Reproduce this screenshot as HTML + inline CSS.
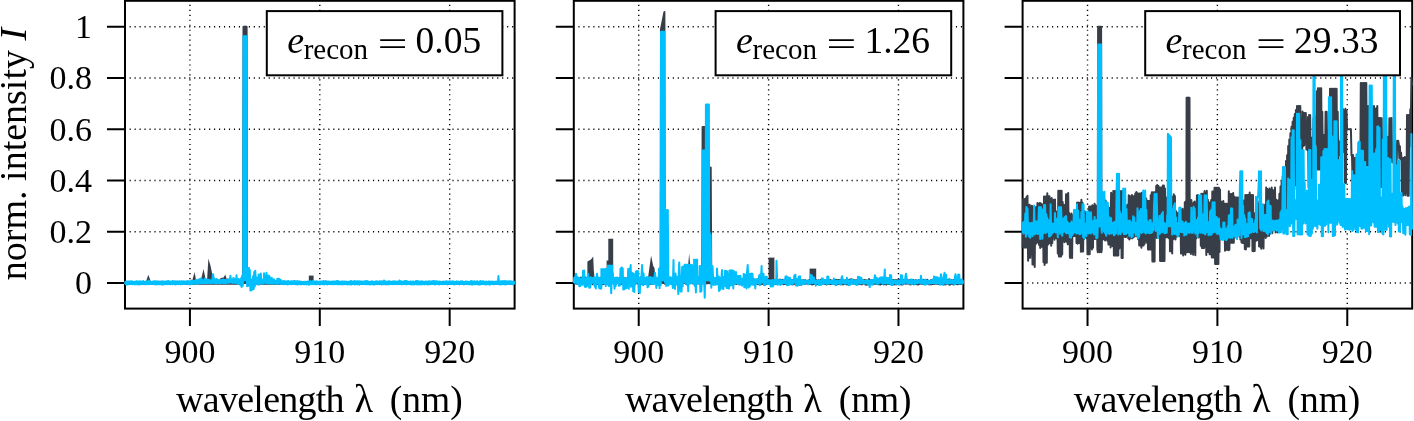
<!DOCTYPE html>
<html><head><meta charset="utf-8"><style>
html,body{margin:0;padding:0;background:#fff;}
svg{display:block;will-change:transform;}
.s{font-family:"Liberation Serif", serif;fill:#000;}
</style></head><body>
<svg width="1414" height="421" viewBox="0 0 1414 421"><rect width="100%" height="100%" fill="#fff"/><path d="M189.93 308.95V0.80M319.80 308.95V0.80M449.67 308.95V0.80M129.60 282.95H514.60M129.60 231.70H514.60M129.60 180.45H514.60M129.60 129.20H514.60M129.60 77.95H514.60M129.60 26.70H514.60" stroke="#000" stroke-width="1.4" stroke-dasharray="1.15 3.817" fill="none" opacity="1"/><rect x="125.00" y="0.80" width="389.60" height="307.80" fill="none" stroke="#000" stroke-width="2"/><path d="M189.93 308.60V326.10M319.80 308.60V326.10M449.67 308.60V326.10M125.00 282.95H107.00M125.00 231.70H107.00M125.00 180.45H107.00M125.00 129.20H107.00M125.00 77.95H107.00M125.00 26.70H107.00" stroke="#000" stroke-width="2" fill="none"/><g fill="none" stroke-width="2.0" stroke-linejoin="round" stroke-linecap="butt"><path d="M125.0,283.8 125.5,282.1 126.1,283.8 126.6,282.1 127.2,283.8 127.7,282.1 128.3,283.8 128.8,282.1 129.4,283.8 129.9,282.1 130.5,283.8 131.0,282.1 131.6,283.8 132.1,282.1 132.7,283.8 133.2,282.1 133.8,283.8 134.3,282.1 134.9,283.8 135.4,282.1 136.0,283.8 136.5,282.1 137.1,283.8 137.6,282.1 138.2,283.8 138.7,282.1 139.3,283.8 139.8,282.1 140.4,283.8 140.9,282.1 141.5,283.8 142.0,282.1 142.6,283.8 143.1,282.1 143.7,283.8 144.2,282.1 144.8,283.8 145.3,282.1 145.9,283.8 146.4,282.1 147.0,283.8 147.5,282.1 148.1,283.8 148.6,282.1 149.2,283.8 149.7,282.1 150.3,283.8 150.8,282.1 151.4,283.8 151.9,282.1 152.5,283.8 153.0,282.1 153.6,283.8 154.1,282.1 154.7,283.8 155.2,282.1 155.8,283.8 156.3,282.1 156.9,283.8 157.4,282.1 158.0,283.8 158.5,282.1 159.1,283.8 159.6,282.1 160.2,283.8 160.7,282.1 161.3,283.8 161.8,282.1 162.4,283.8 162.9,282.1 163.5,283.8 164.0,282.1 164.6,283.8 165.1,282.1 165.7,283.8 166.2,282.1 166.8,283.8 167.3,282.1 167.9,283.8 168.4,282.1 169.0,283.8 169.5,282.1 170.1,283.8 170.6,282.1 171.2,283.8 171.7,282.1 172.3,283.8 172.8,282.1 173.4,283.8 173.9,282.1 174.5,283.8 175.0,282.1 175.6,283.8 176.1,282.1 176.7,283.8 177.2,282.1 177.8,283.8 178.3,282.1 178.9,283.8 179.4,282.1 180.0,283.8 180.5,282.1 181.1,283.8 181.6,282.1 182.2,283.8 182.7,282.1 183.3,283.8 183.8,282.1 184.4,283.8 184.9,282.1 185.5,283.8 186.0,282.1 186.6,283.8 187.1,282.1 187.7,283.8 188.2,282.1 188.8,283.8 189.3,282.1 189.9,283.8 190.4,282.1 191.0,283.8 191.5,282.1 192.1,283.8 192.6,282.1 193.2,283.8 193.7,282.1 194.3,283.8 194.8,282.1 195.4,283.8 195.9,282.1 196.5,283.8 197.0,282.1 197.6,283.8 198.1,282.1 198.7,283.8 199.2,282.1 199.8,283.8 200.3,282.1 200.9,283.8 201.4,282.1 202.0,283.8 202.5,282.1 203.1,283.8 203.6,282.1 204.2,283.8 204.7,282.1 205.3,283.8 205.8,282.1 206.4,283.8 206.9,282.1 207.5,283.8 208.0,282.1 208.6,283.8 209.1,282.1 209.7,283.8 210.2,282.1 210.8,283.8 211.3,282.1 211.9,283.8 212.4,282.1 213.0,283.8 213.5,282.1 214.1,283.8 214.6,282.1 215.2,283.8 215.7,282.1 216.3,283.8 216.8,282.1 217.4,283.8 217.9,282.1 218.5,283.8 219.0,282.1 219.6,283.8 220.1,282.1 220.7,283.8 221.2,282.1 221.8,283.8 222.3,282.1 222.9,283.8 223.4,282.1 224.0,283.8 224.5,282.1 225.1,283.8 225.6,282.1 226.2,283.8 226.7,282.1 227.3,283.8 227.8,282.1 228.4,283.8 228.9,282.1 229.5,283.8 230.0,282.1 230.6,283.8 231.1,282.1 231.7,283.8 232.2,282.1 232.8,283.8 233.3,282.1 233.9,283.8 234.4,282.1 235.0,283.8 235.5,282.1 236.1,283.8 236.6,282.1 237.2,283.8 237.7,282.1 238.3,283.8 238.8,282.1 239.4,283.8 239.9,282.1 240.5,283.8 241.0,282.1 241.6,283.8 242.1,282.1 242.7,283.8 243.2,282.9 243.5,26.7 245.0,26.7 245.1,282.9 245.1,26.7 246.6,26.7 246.9,282.9 247.1,283.8 247.6,282.1 248.2,283.8 248.7,282.1 249.3,283.8 249.8,282.1 250.4,283.8 250.9,282.1 251.5,283.8 252.0,282.1 252.6,283.8 253.1,282.1 253.7,283.8 254.2,282.1 254.8,283.8 255.3,282.1 255.9,283.8 256.4,282.1 257.0,283.8 257.5,282.1 258.1,283.8 258.6,282.1 259.2,283.8 259.7,282.1 260.3,283.8 260.8,282.1 261.4,283.8 261.9,282.1 262.5,283.8 263.0,282.1 263.6,283.8 264.1,282.1 264.7,283.8 265.2,282.1 265.8,283.8 266.3,282.1 266.9,283.8 267.4,282.1 268.0,283.8 268.5,282.1 269.1,283.8 269.6,282.1 270.2,283.8 270.7,282.1 271.3,283.8 271.8,282.1 272.4,283.8 272.9,282.1 273.5,283.8 274.0,282.1 274.6,283.8 275.1,282.1 275.7,283.8 276.2,282.1 276.8,283.8 277.3,282.1 277.9,283.8 278.4,282.1 279.0,283.8 279.5,282.1 280.1,283.8 280.6,282.1 281.2,283.8 281.7,282.1 282.3,283.8 282.8,282.1 283.4,283.8 283.9,282.1 284.5,283.8 285.0,282.1 285.6,283.8 286.1,282.1 286.7,283.8 287.2,282.1 287.8,283.8 288.3,282.1 288.9,283.8 289.4,282.1 290.0,283.8 290.5,282.1 291.1,283.8 291.6,282.1 292.2,283.8 292.7,282.1 293.3,283.8 293.8,282.1 294.4,283.8 294.9,282.1 295.5,283.8 296.0,282.1 296.6,283.8 297.1,282.1 297.7,283.8 298.2,282.1 298.8,283.8 299.3,282.1 299.9,283.8 300.4,282.1 301.0,283.8 301.5,282.1 302.1,283.8 302.6,282.1 303.2,283.8 303.7,282.1 304.3,283.8 304.8,282.1 305.4,283.8 305.9,282.1 306.5,283.8 307.0,282.1 307.6,283.8 308.1,282.1 308.7,283.8 309.2,282.1 309.8,283.8 310.3,282.1 310.9,283.8 311.4,282.1 312.0,283.8 312.5,282.1 313.1,283.8 313.6,282.1 314.2,283.8 314.7,282.1 315.3,283.8 315.8,282.1 316.4,283.8 316.9,282.1 317.5,283.8 318.0,282.1 318.6,283.8 319.1,282.1 319.7,283.8 320.2,282.1 320.8,283.8 321.3,282.1 321.9,283.8 322.4,282.1 323.0,283.8 323.5,282.1 324.1,283.8 324.6,282.1 325.2,283.8 325.7,282.1 326.3,283.8 326.8,282.1 327.4,283.8 327.9,282.1 328.5,283.8 329.0,282.1 329.6,283.8 330.1,282.1 330.7,283.8 331.2,282.1 331.8,283.8 332.3,282.1 332.9,283.8 333.4,282.1 334.0,283.8 334.5,282.1 335.1,283.8 335.6,282.1 336.2,283.8 336.7,282.1 337.3,283.8 337.8,282.1 338.4,283.8 338.9,282.1 339.5,283.8 340.0,282.1 340.6,283.8 341.1,282.1 341.7,283.8 342.2,282.1 342.8,283.8 343.3,282.1 343.9,283.8 344.4,282.1 345.0,283.8 345.5,282.1 346.1,283.8 346.6,282.1 347.2,283.8 347.7,282.1 348.3,283.8 348.8,282.1 349.4,283.8 349.9,282.1 350.5,283.8 351.0,282.1 351.6,283.8 352.1,282.1 352.7,283.8 353.2,282.1 353.8,283.8 354.3,282.1 354.9,283.8 355.4,282.1 356.0,283.8 356.5,282.1 357.1,283.8 357.6,282.1 358.2,283.8 358.7,282.1 359.3,283.8 359.8,282.1 360.4,283.8 360.9,282.1 361.5,283.8 362.0,282.1 362.6,283.8 363.1,282.1 363.7,283.8 364.2,282.1 364.8,283.8 365.3,282.1 365.9,283.8 366.4,282.1 367.0,283.8 367.5,282.1 368.1,283.8 368.6,282.1 369.2,283.8 369.7,282.1 370.3,283.8 370.8,282.1 371.4,283.8 371.9,282.1 372.5,283.8 373.0,282.1 373.6,283.8 374.1,282.1 374.7,283.8 375.2,282.1 375.8,283.8 376.3,282.1 376.9,283.8 377.4,282.1 378.0,283.8 378.5,282.1 379.1,283.8 379.6,282.1 380.2,283.8 380.7,282.1 381.3,283.8 381.8,282.1 382.4,283.8 382.9,282.1 383.5,283.8 384.0,282.1 384.6,283.8 385.1,282.1 385.7,283.8 386.2,282.1 386.8,283.8 387.3,282.1 387.9,283.8 388.4,282.1 389.0,283.8 389.5,282.1 390.1,283.8 390.6,282.1 391.2,283.8 391.7,282.1 392.3,283.8 392.8,282.1 393.4,283.8 393.9,282.1 394.5,283.8 395.0,282.1 395.6,283.8 396.1,282.1 396.7,283.8 397.2,282.1 397.8,283.8 398.3,282.1 398.9,283.8 399.4,282.1 400.0,283.8 400.5,282.1 401.1,283.8 401.6,282.1 402.2,283.8 402.7,282.1 403.3,283.8 403.8,282.1 404.4,283.8 404.9,282.1 405.5,283.8 406.0,282.1 406.6,283.8 407.1,282.1 407.7,283.8 408.2,282.1 408.8,283.8 409.3,282.1 409.9,283.8 410.4,282.1 411.0,283.8 411.5,282.1 412.1,283.8 412.6,282.1 413.2,283.8 413.7,282.1 414.3,283.8 414.8,282.1 415.4,283.8 415.9,282.1 416.5,283.8 417.0,282.1 417.6,283.8 418.1,282.1 418.7,283.8 419.2,282.1 419.8,283.8 420.3,282.1 420.9,283.8 421.4,282.1 422.0,283.8 422.5,282.1 423.1,283.8 423.6,282.1 424.2,283.8 424.7,282.1 425.3,283.8 425.8,282.1 426.4,283.8 426.9,282.1 427.5,283.8 428.0,282.1 428.6,283.8 429.1,282.1 429.7,283.8 430.2,282.1 430.8,283.8 431.3,282.1 431.9,283.8 432.4,282.1 433.0,283.8 433.5,282.1 434.1,283.8 434.6,282.1 435.2,283.8 435.7,282.1 436.3,283.8 436.8,282.1 437.4,283.8 437.9,282.1 438.5,283.8 439.0,282.1 439.6,283.8 440.1,282.1 440.7,283.8 441.2,282.1 441.8,283.8 442.3,282.1 442.9,283.8 443.4,282.1 444.0,283.8 444.5,282.1 445.1,283.8 445.6,282.1 446.2,283.8 446.7,282.1 447.3,283.8 447.8,282.1 448.4,283.8 448.9,282.1 449.5,283.8 450.0,282.1 450.6,283.8 451.1,282.1 451.7,283.8 452.2,282.1 452.8,283.8 453.3,282.1 453.9,283.8 454.4,282.1 455.0,283.8 455.5,282.1 456.1,283.8 456.6,282.1 457.2,283.8 457.7,282.1 458.3,283.8 458.8,282.1 459.4,283.8 459.9,282.1 460.5,283.8 461.0,282.1 461.6,283.8 462.1,282.1 462.7,283.8 463.2,282.1 463.8,283.8 464.3,282.1 464.9,283.8 465.4,282.1 466.0,283.8 466.5,282.1 467.1,283.8 467.6,282.1 468.2,283.8 468.7,282.1 469.3,283.8 469.8,282.1 470.4,283.8 470.9,282.1 471.5,283.8 472.0,282.1 472.6,283.8 473.1,282.1 473.7,283.8 474.2,282.1 474.8,283.8 475.3,282.1 475.9,283.8 476.4,282.1 477.0,283.8 477.5,282.1 478.1,283.8 478.6,282.1 479.2,283.8 479.7,282.1 480.3,283.8 480.8,282.1 481.4,283.8 481.9,282.1 482.5,283.8 483.0,282.1 483.6,283.8 484.1,282.1 484.7,283.8 485.2,282.1 485.8,283.8 486.3,282.1 486.9,283.8 487.4,282.1 488.0,283.8 488.5,282.1 489.1,283.8 489.6,282.1 490.2,283.8 490.7,282.1 491.3,283.8 491.8,282.1 492.4,283.8 492.9,282.1 493.5,283.8 494.0,282.1 494.6,283.8 495.1,282.1 495.7,283.8 496.2,282.1 496.8,283.8 497.3,282.1 497.9,283.8 498.4,282.1 499.0,283.8 499.5,282.1 500.1,283.8 500.6,282.1 501.2,283.8 501.7,282.1 502.3,283.8 502.8,282.1 503.4,283.8 503.9,282.1 504.5,283.8 505.0,282.1 505.6,283.8 506.1,282.1 506.7,283.8 507.2,282.1 507.8,283.8 508.3,282.1 508.9,283.8 509.4,282.1 510.0,283.8 510.5,282.1 511.1,283.8 511.6,282.1 512.2,283.8 512.7,282.1 513.3,283.8 513.8,282.1 514.4,283.8" stroke="#373e48"/><path d="M146.2,281.0 148.3,274.8 150.6,281.0Z" fill="#373e48" stroke="none"/><path d="M192.2,281.0 194.5,272.0 196.3,281.0Z" fill="#373e48" stroke="none"/><path d="M200.7,281.0 203.5,269.0 206.0,281.0Z" fill="#373e48" stroke="none"/><path d="M207.0,281.0 208.4,258.4 210.6,266.1 213.6,281.0Z" fill="#373e48" stroke="none"/><path d="M219.8,281.0 220.5,278.0 223.6,277.6 225.3,274.4 227.3,281.0Z" fill="#373e48" stroke="none"/><path d="M308.8,282.0 308.8,275.6 313.6,275.6 313.6,282.0Z" fill="#373e48" stroke="none"/><path d="M125.0,284.1 125.5,281.8 126.1,284.5 126.6,281.5 127.2,284.4 127.7,281.6 128.3,284.2 128.8,281.6 129.4,283.8 129.9,281.3 130.5,284.1 131.0,281.7 131.6,284.1 132.1,281.3 132.7,284.3 133.2,282.0 133.8,283.9 134.3,281.8 134.9,284.5 135.4,281.8 136.0,284.0 136.5,281.3 137.1,284.3 137.6,281.5 138.2,284.5 138.7,281.5 139.3,284.3 139.8,281.2 140.4,284.4 140.9,281.4 141.5,283.9 142.0,281.8 142.6,283.8 143.1,281.1 143.7,283.8 144.2,281.8 144.8,284.2 145.3,281.8 145.9,284.3 146.4,281.4 147.0,283.9 147.5,281.4 148.1,284.2 148.5,280.4 149.2,283.8 149.7,281.2 150.3,284.0 150.8,281.7 151.4,284.0 151.9,282.0 152.5,283.8 153.0,281.4 153.6,284.0 154.1,281.2 154.7,284.2 155.2,281.3 155.8,284.4 156.3,281.4 156.9,284.3 157.4,281.2 158.0,284.3 158.5,281.8 159.1,284.4 159.6,281.4 160.2,284.1 160.7,281.8 161.3,284.5 161.8,281.2 162.4,284.5 162.9,281.4 163.5,284.4 164.0,281.4 164.6,284.3 165.1,281.6 165.7,284.1 166.2,281.4 166.8,284.3 167.3,281.2 167.9,284.1 168.4,281.0 169.0,283.8 169.5,281.8 170.1,284.4 170.6,281.5 171.2,284.0 171.7,281.4 172.3,284.3 172.8,281.1 173.4,283.9 173.9,281.6 174.5,284.2 175.0,281.2 175.6,284.5 176.1,281.7 176.7,284.1 177.2,281.3 177.8,284.3 178.3,281.8 178.9,284.0 179.4,281.3 180.0,284.2 180.5,281.5 181.1,284.3 181.6,281.3 182.2,283.9 182.7,281.6 183.3,284.0 183.8,281.3 184.4,284.1 184.9,281.5 185.5,283.8 186.0,281.7 186.6,283.8 187.1,281.1 187.7,284.2 188.2,281.2 188.8,283.8 189.3,281.3 189.9,284.5 190.4,281.2 191.0,284.0 191.5,280.5 192.1,284.2 192.6,281.3 193.2,283.5 193.7,280.9 194.3,283.3 194.8,280.7 195.4,283.8 195.9,279.8 196.5,283.7 197.0,280.8 197.6,283.9 198.1,279.7 198.7,283.1 199.2,279.6 199.8,283.2 200.3,278.8 200.9,283.0 201.4,278.4 202.0,283.4 202.5,280.2 203.1,283.0 203.6,280.4 204.2,283.2 204.7,278.5 205.3,283.0 205.8,278.9 206.4,282.9 206.9,280.0 207.5,283.3 208.0,279.5 208.6,282.8 209.1,280.1 209.7,283.4 210.2,280.3 210.8,283.0 211.3,280.7 211.9,283.2 212.4,279.1 213.0,274.2 213.5,278.1 214.1,283.1 214.6,278.4 215.2,283.1 215.7,279.9 216.3,283.4 216.8,279.1 217.4,283.3 217.9,280.1 218.5,282.8 219.0,280.1 219.6,283.4 220.1,280.2 220.7,282.9 221.2,280.3 221.8,282.9 222.3,279.7 222.9,283.0 223.4,279.5 224.0,282.9 224.5,279.9 225.1,283.0 225.6,279.9 226.2,283.1 226.7,280.2 227.3,282.7 227.8,279.1 228.4,282.7 228.9,280.1 229.5,282.8 230.0,278.6 230.4,275.8 231.1,280.1 231.7,282.7 232.2,279.8 232.8,282.9 233.3,278.0 233.9,282.7 234.4,278.7 235.0,282.9 235.5,279.3 236.1,282.8 236.5,275.3 237.2,283.1 237.7,279.7 238.3,284.1 238.8,278.9 239.4,283.8 239.9,280.0 240.5,285.3 241.0,278.2 241.6,286.9 242.1,275.8 242.7,285.8 243.2,280.4 243.5,36.2 245.0,36.2 245.1,280.4 245.1,36.2 246.6,36.2 246.9,280.4 247.1,286.2 247.6,274.5 248.2,285.9 248.7,268.1 249.0,268.1 249.3,284.9 249.8,270.0 250.4,290.5 250.9,279.1 251.5,290.2 252.0,279.9 252.6,289.5 253.1,276.2 253.7,289.0 254.2,272.0 254.8,286.4 255.3,270.8 255.9,284.3 256.4,277.3 257.0,282.9 257.5,279.8 258.1,284.4 258.6,274.5 259.2,284.4 259.7,274.8 260.3,282.8 260.8,273.5 261.4,283.7 261.9,280.4 262.5,283.7 263.0,279.6 263.6,283.0 264.1,273.2 264.7,282.7 265.2,276.6 265.8,282.9 266.5,272.7 266.9,283.0 267.4,280.4 268.0,283.7 268.5,275.6 269.1,282.7 269.6,276.5 270.2,283.4 270.7,281.0 271.3,283.3 271.8,277.8 272.4,283.5 272.9,280.7 273.5,283.3 274.0,279.2 274.6,283.4 275.1,281.1 275.7,283.4 276.2,281.1 276.8,283.8 277.3,278.8 277.9,284.0 278.4,279.0 279.0,278.8 279.5,281.0 280.1,283.5 280.6,279.7 281.2,284.1 281.7,281.3 282.3,283.4 282.8,281.3 283.4,284.3 283.9,281.0 284.5,283.9 285.0,281.3 285.6,283.7 286.1,281.6 286.7,284.2 287.2,281.2 287.8,284.5 288.3,281.0 288.9,284.1 289.4,281.7 290.0,283.9 290.5,281.5 291.1,284.2 291.6,281.3 292.2,284.0 292.7,281.4 293.3,284.0 293.8,281.0 294.4,283.9 294.9,281.0 295.5,284.3 296.0,281.8 296.6,284.2 297.1,281.1 297.7,284.5 298.2,281.4 298.8,284.1 299.3,281.2 299.9,283.8 300.4,281.8 301.0,284.6 301.5,281.8 302.1,283.8 302.6,281.9 303.2,284.0 303.7,282.0 304.3,284.4 304.8,281.7 305.4,283.9 305.9,281.7 306.5,284.4 307.0,281.8 307.6,283.9 308.1,281.4 308.7,284.7 309.2,281.6 309.8,284.5 310.3,281.1 310.9,284.0 311.4,281.9 312.0,284.0 312.5,281.1 313.1,283.9 313.6,281.6 314.2,284.3 314.7,281.6 315.3,283.9 315.8,281.5 316.4,284.4 316.9,281.3 317.5,284.1 318.0,281.9 318.6,283.8 319.1,281.6 319.7,284.5 320.2,281.4 320.8,284.0 321.3,281.6 321.9,284.3 322.4,281.5 323.0,283.9 323.5,281.1 324.1,284.6 324.6,281.5 325.2,284.0 325.7,281.1 326.3,284.2 326.8,281.4 327.4,284.4 327.9,281.5 328.5,284.0 329.0,281.4 329.6,283.7 330.1,281.7 330.7,284.2 331.2,281.7 331.8,284.1 332.3,281.6 332.9,284.3 333.4,281.6 334.0,284.2 334.5,281.5 335.1,283.9 335.6,281.5 336.2,284.1 336.7,281.0 337.3,284.1 337.8,281.0 338.4,284.4 338.9,281.4 339.5,284.0 340.0,281.9 340.6,284.3 341.1,281.4 341.7,284.3 342.2,281.5 342.8,284.3 343.3,281.5 343.9,284.2 344.4,281.5 345.0,283.9 345.5,281.7 346.1,283.7 346.6,281.6 347.2,284.5 347.7,281.9 348.3,284.2 348.8,281.8 349.4,284.3 349.9,281.6 350.5,284.4 351.0,281.1 351.6,284.5 352.1,281.6 352.7,283.7 353.2,281.8 353.8,283.8 354.3,281.0 354.9,284.5 355.4,281.7 356.0,283.9 356.5,281.3 357.1,284.4 357.6,281.3 358.2,284.0 358.7,281.6 359.3,284.7 359.8,281.2 360.4,283.9 360.9,281.5 361.5,284.3 362.0,281.8 362.6,284.1 363.1,281.4 363.7,284.3 364.2,281.6 364.8,284.0 365.3,281.3 365.9,284.2 366.4,281.0 367.0,284.3 367.5,281.3 368.1,283.8 368.6,281.8 369.2,284.5 369.7,281.8 370.3,284.3 370.8,281.7 371.4,284.2 371.9,281.2 372.5,284.3 373.0,281.7 373.6,284.6 374.1,281.9 374.7,284.6 375.2,281.4 375.8,283.8 376.3,281.2 376.9,283.9 377.4,281.4 378.0,283.8 378.5,281.7 379.1,283.8 379.6,281.3 380.2,283.9 380.7,281.6 381.3,284.4 381.8,281.3 382.4,284.2 382.9,281.7 383.5,284.3 384.0,280.4 384.6,284.1 385.1,281.3 385.7,284.6 386.2,281.7 386.8,283.8 387.3,281.4 387.9,284.4 388.4,281.5 389.0,284.4 389.5,281.2 390.1,283.9 390.6,281.7 391.2,284.0 391.7,281.8 392.3,284.2 392.8,281.4 393.4,284.0 393.9,281.3 394.5,284.3 395.0,281.5 395.6,283.9 396.1,281.6 396.7,284.0 397.2,281.6 397.8,284.2 398.3,281.7 398.9,283.9 399.5,280.4 400.0,283.9 400.5,281.2 401.1,284.2 401.6,281.4 402.2,284.2 402.7,281.7 403.3,283.9 403.8,281.5 404.4,283.8 404.9,281.0 405.5,283.9 406.0,281.0 406.6,284.4 407.1,281.2 407.7,284.0 408.2,281.7 408.8,284.1 409.3,281.7 409.9,284.0 410.4,281.6 411.0,284.5 411.5,281.8 412.1,284.3 412.6,281.4 413.2,284.4 413.7,281.6 414.3,284.4 414.8,281.9 415.4,283.9 415.9,281.1 416.5,284.3 417.0,281.0 417.6,284.3 418.1,281.3 418.7,284.4 419.2,281.5 419.8,284.2 420.3,281.7 420.9,284.6 421.4,281.3 422.0,284.3 422.5,281.6 423.1,284.0 423.6,281.7 424.2,284.5 424.7,281.7 425.3,283.8 425.8,281.6 426.4,283.9 426.9,281.5 427.5,284.6 428.0,281.7 428.6,284.3 429.1,281.3 429.7,284.3 430.2,281.5 430.8,283.8 431.3,281.4 431.9,284.1 432.4,281.3 433.0,284.0 433.5,281.1 434.1,284.0 434.6,281.2 435.2,284.6 435.7,281.3 436.3,284.1 436.8,281.2 437.4,284.0 437.9,281.8 438.5,284.2 439.0,281.4 439.6,284.4 440.1,281.7 440.7,284.0 441.2,281.8 441.8,283.9 442.3,281.9 442.9,284.3 443.4,281.4 444.0,284.0 444.5,281.7 445.1,284.1 445.6,281.5 446.2,284.0 446.7,281.3 447.3,284.4 447.8,281.8 448.4,283.8 448.9,281.4 449.5,283.9 450.0,281.3 450.6,284.1 451.1,281.9 451.7,284.0 452.2,281.2 452.8,283.9 453.3,281.6 453.9,284.4 454.4,281.8 455.0,284.4 455.5,281.9 456.1,283.7 456.6,281.3 457.2,284.1 457.7,282.0 458.3,283.7 458.8,281.4 459.4,284.4 459.9,281.9 460.5,284.1 461.0,281.2 461.6,283.9 462.1,281.3 462.7,283.9 463.2,281.7 463.8,284.5 464.3,281.9 464.9,284.0 465.4,281.4 466.0,283.8 466.5,281.6 467.1,283.9 467.6,281.8 468.2,284.2 468.7,281.8 469.3,284.3 469.8,281.9 470.4,283.8 470.9,281.1 471.5,284.6 472.0,281.2 472.6,284.5 473.1,281.8 473.7,284.2 474.2,281.3 474.8,284.2 475.3,281.8 475.9,283.9 476.4,281.5 477.0,284.1 477.5,281.3 478.1,284.5 478.6,281.9 479.2,284.5 479.7,281.4 480.3,284.4 480.5,280.9 480.8,281.6 481.4,283.7 481.9,281.4 482.5,284.0 483.0,281.3 483.6,284.0 484.1,281.5 484.7,284.2 485.2,281.9 485.8,284.6 486.3,281.4 486.9,284.3 487.4,282.0 488.0,284.3 488.5,281.4 489.1,284.4 489.6,281.4 490.2,284.6 490.7,281.7 491.3,284.0 491.8,281.5 492.4,284.1 492.9,281.8 493.5,284.4 494.0,281.7 494.6,284.1 495.1,281.8 495.7,283.8 496.2,281.4 496.8,283.9 497.3,281.8 497.9,284.0 498.4,276.0 499.0,284.3 499.5,281.7 500.1,284.5 500.6,281.3 501.2,284.2 501.7,281.4 502.3,284.2 502.8,280.9 503.4,284.1 503.9,281.6 504.5,284.2 505.0,281.0 505.6,284.5 506.1,281.4 506.7,283.8 507.2,281.3 507.8,284.0 508.3,281.6 508.9,284.0 509.4,281.3 510.0,283.9 510.5,281.3 511.1,284.0 511.6,281.6 512.2,284.3 512.7,281.7 513.3,284.2 513.8,281.4 514.4,284.4" stroke="#00bfff"/></g><text x="189.93" y="363.4" font-size="34" text-anchor="middle" class="s">900</text><text x="319.80" y="363.4" font-size="34" text-anchor="middle" class="s">910</text><text x="449.67" y="363.4" font-size="34" text-anchor="middle" class="s">920</text><text x="176.10" y="412.2" font-size="38" letter-spacing="-0.74" class="s">wavelength</text><text transform="translate(356.70,412.2) skewX(10)" x="0" y="0" font-size="40" font-style="italic" class="s">λ</text><text x="389.85" y="412.2" font-size="37.5" class="s">(nm)</text><rect x="266.80" y="11.1" width="235.60" height="64.20" fill="#fff" stroke="#000" stroke-width="2"/><text x="287.20" y="53.3" font-size="38" font-style="italic" class="s">e</text><text x="303.70" y="58.9" font-size="29" class="s">recon</text><path d="M380.20 40.2H405.00M380.20 47.1H405.00" stroke="#000" stroke-width="1.8"/><text x="415.60" y="53.2" font-size="37.5" class="s">0.05</text><path d="M638.73 308.95V0.80M768.60 308.95V0.80M898.47 308.95V0.80M578.40 282.95H963.40M578.40 231.70H963.40M578.40 180.45H963.40M578.40 129.20H963.40M578.40 77.95H963.40M578.40 26.70H963.40" stroke="#000" stroke-width="1.4" stroke-dasharray="1.15 3.817" fill="none" opacity="1"/><rect x="573.80" y="0.80" width="389.60" height="307.80" fill="none" stroke="#000" stroke-width="2"/><path d="M638.73 308.60V326.10M768.60 308.60V326.10M898.47 308.60V326.10M573.80 282.95H555.80M573.80 231.70H555.80M573.80 180.45H555.80M573.80 129.20H555.80M573.80 77.95H555.80M573.80 26.70H555.80" stroke="#000" stroke-width="2" fill="none"/><g fill="none" stroke-width="2.0" stroke-linejoin="round" stroke-linecap="butt"><path d="M573.8,283.1 574.3,278.2 574.9,282.7 575.4,278.8 576.0,283.5 576.5,277.8 577.1,283.8 577.6,278.3 578.2,282.8 578.7,278.0 579.3,283.7 579.8,278.7 580.4,283.3 580.9,277.5 581.5,283.1 582.0,277.9 582.6,283.2 583.1,278.9 583.7,283.2 584.2,278.9 584.8,283.3 585.3,277.6 585.9,282.8 586.4,278.1 587.0,283.8 587.5,278.0 588.1,283.9 588.6,278.3 589.2,284.1 589.7,278.2 590.3,283.6 590.8,278.0 591.4,282.8 591.9,277.8 592.5,284.2 593.0,278.4 593.6,283.4 594.1,278.4 594.7,283.1 595.2,278.5 595.8,283.5 596.3,278.4 596.9,284.0 597.4,278.4 598.0,283.9 598.5,278.0 599.1,283.5 599.6,278.2 600.2,283.0 600.7,277.8 601.3,284.0 601.8,278.4 602.4,284.2 602.9,275.8 603.5,284.0 604.0,278.4 604.6,283.4 605.1,278.9 605.7,283.8 606.2,277.9 606.8,283.7 607.3,278.3 607.9,283.1 608.4,277.8 609.0,283.7 609.5,278.4 610.1,284.0 610.6,278.3 611.2,283.2 611.7,278.3 612.3,283.0 612.8,278.5 613.4,283.5 613.9,278.0 614.5,283.8 615.0,278.7 615.6,284.2 616.1,279.0 616.7,283.1 617.2,278.7 617.8,283.2 618.3,279.1 618.9,283.8 619.4,277.9 620.0,283.5 620.5,278.9 621.1,284.0 621.6,278.2 622.2,283.6 622.7,278.9 623.3,282.9 623.8,277.9 624.4,282.9 624.9,278.7 625.5,284.2 626.0,278.3 626.6,283.7 627.1,278.4 627.7,283.2 628.2,277.7 628.8,282.9 629.3,277.8 629.9,283.4 630.4,278.4 631.0,283.1 631.5,277.4 632.1,283.2 632.6,278.2 633.2,283.6 633.7,278.0 634.3,283.1 634.8,278.8 635.4,283.7 635.9,278.8 636.5,283.1 637.0,277.9 637.6,283.6 638.1,277.6 638.7,283.0 639.2,279.0 639.8,283.6 640.3,277.6 640.9,284.0 641.4,278.2 642.0,283.5 642.5,278.9 643.1,284.0 643.6,278.6 644.2,282.6 644.7,278.4 645.3,283.7 645.8,278.2 646.4,283.3 646.9,278.5 647.5,283.2 648.0,277.8 648.6,283.2 649.1,277.7 649.7,283.8 650.2,278.7 650.8,284.1 651.3,278.5 651.9,283.4 652.4,278.3 653.0,283.7 653.5,278.9 654.1,282.8 654.6,278.8 655.2,282.8 655.7,277.9 656.3,283.1 656.8,278.9 657.4,282.8 657.9,278.3 658.5,284.4 659.0,278.9 659.6,282.8 660.1,279.1 660.7,283.0 660.7,282.9 661.0,29.3 662.7,20.7 662.7,282.9 662.7,20.7 664.4,12.1 664.7,282.9 665.1,284.0 665.6,211.2 666.2,283.3 666.7,211.2 667.3,283.1 667.8,278.5 668.4,282.8 668.9,278.2 669.5,283.3 670.0,278.4 670.6,282.7 671.1,278.4 671.7,283.5 672.2,278.6 672.8,283.7 673.3,277.5 673.9,282.9 674.4,278.1 675.0,283.7 675.5,279.1 676.1,283.1 676.6,278.1 677.2,284.2 677.7,278.7 678.3,284.2 678.8,277.7 679.4,283.1 679.9,278.1 680.5,283.6 681.0,277.7 681.6,283.7 682.1,278.4 682.7,282.7 683.2,278.1 683.8,283.0 684.3,278.0 684.9,282.9 685.4,279.0 686.0,283.8 686.5,277.4 687.1,283.3 687.6,278.7 688.2,283.7 688.7,278.1 689.3,283.2 689.8,278.7 690.4,283.1 690.9,278.6 691.5,282.7 692.0,278.2 692.6,283.3 693.1,278.4 693.7,283.3 694.2,277.8 694.8,283.0 695.3,278.5 695.9,283.0 696.4,279.1 697.0,283.6 697.5,278.9 698.1,283.4 698.6,278.9 699.2,283.5 699.7,278.0 700.3,283.0 700.8,277.9 701.4,283.3 701.9,278.6 702.3,282.9 702.6,126.9 703.8,126.9 703.8,282.9 703.8,126.9 705.0,126.9 705.3,282.9 705.8,283.2 706.3,278.1 706.9,283.5 707.4,278.0 708.0,282.8 708.5,278.1 709.1,283.3 709.6,278.9 710.2,282.9 710.7,167.6 711.3,284.0 711.8,278.3 712.4,283.2 712.9,278.2 713.5,283.1 714.0,278.4 714.6,284.2 715.1,278.5 715.7,283.4 716.2,278.2 716.8,284.0 717.3,278.3 717.9,283.8 718.4,279.1 719.0,283.9 719.5,279.3 720.1,283.6 720.6,279.4 721.2,283.4 721.7,279.0 722.3,283.3 722.8,278.9 723.4,283.5 723.9,279.4 724.5,284.1 725.0,279.3 725.6,284.1 726.1,279.2 726.7,283.0 727.2,279.2 727.8,283.3 728.3,279.5 728.9,284.2 729.4,279.3 730.0,283.6 730.5,278.9 731.1,283.9 731.6,278.7 732.2,284.0 732.7,279.7 733.3,283.9 733.8,279.1 734.4,283.6 734.9,278.7 735.5,283.7 736.0,279.8 736.6,283.9 737.1,278.6 737.7,283.3 738.2,279.3 738.8,284.2 739.3,279.7 739.9,283.7 740.4,279.4 741.0,284.2 741.5,279.0 742.1,284.1 742.6,279.4 743.2,283.7 743.7,279.4 744.3,283.5 744.8,279.8 745.4,284.2 745.9,279.8 746.5,283.6 747.0,279.6 747.6,284.2 748.1,279.0 748.7,283.5 749.2,279.5 749.8,284.1 750.3,280.0 750.9,283.3 751.4,280.0 752.0,283.6 752.5,279.7 753.1,284.0 753.6,280.1 754.2,284.0 754.7,279.7 755.3,284.1 755.8,280.2 756.4,283.3 756.9,279.4 757.5,284.0 758.0,279.3 758.6,283.7 759.1,280.0 759.7,284.0 760.2,279.8 760.8,284.5 761.3,279.8 761.9,283.5 762.4,279.8 763.0,284.0 763.5,279.4 764.1,284.3 764.6,280.0 765.2,284.1 765.7,280.5 766.3,284.0 766.8,279.5 767.4,283.6 767.9,279.7 768.5,283.9 769.0,279.7 769.6,283.6 770.1,279.9 770.7,283.6 771.2,280.0 771.8,283.6 772.3,279.8 772.9,284.5 773.4,280.2 774.0,284.0 774.5,280.6 775.1,283.7 775.6,279.7 776.2,284.0 776.7,280.2 777.3,284.2 777.8,280.5 778.4,283.4 778.9,280.0 779.5,283.8 780.0,279.6 780.6,284.3 781.1,280.7 781.7,283.5 782.2,279.7 782.8,283.6 783.3,280.2 783.9,284.3 784.4,280.9 785.0,283.7 785.5,280.5 786.1,283.9 786.6,280.5 787.2,284.6 787.7,280.5 788.3,283.3 788.8,280.0 789.4,284.3 789.9,280.3 790.5,283.7 791.0,280.1 791.6,284.2 792.1,279.9 792.7,284.4 793.2,280.0 793.8,284.3 794.3,279.8 794.9,283.5 795.4,280.3 796.0,283.7 796.5,280.6 797.1,283.9 797.6,280.4 798.2,284.5 798.7,280.3 799.3,283.6 799.8,278.6 800.4,284.6 800.9,280.3 801.5,283.9 802.0,280.4 802.6,283.6 803.1,280.3 803.7,283.6 804.2,280.2 804.8,283.9 805.3,280.3 805.9,283.6 806.4,280.8 807.0,283.5 807.5,280.8 808.1,283.9 808.6,280.4 809.2,283.7 809.7,280.1 810.3,283.8 810.8,280.6 811.4,284.2 811.9,280.1 812.5,284.5 813.0,280.6 813.6,283.9 814.1,280.0 814.7,283.8 815.2,280.1 815.8,283.9 816.3,280.3 816.9,284.2 817.4,280.7 818.0,284.1 818.5,280.3 819.1,284.0 819.6,280.8 820.2,284.0 820.7,280.1 821.3,284.4 821.8,280.8 822.4,283.5 822.9,280.3 823.5,283.6 824.0,280.1 824.6,283.7 825.1,280.4 825.7,284.1 826.2,280.8 826.8,284.5 827.3,280.4 827.9,284.0 828.4,280.1 829.0,284.1 829.5,280.2 830.1,284.0 830.6,280.1 831.2,284.0 831.7,281.0 832.3,283.7 832.8,280.7 833.4,284.0 833.9,280.0 834.5,283.6 835.0,280.3 835.6,284.0 836.1,279.8 836.7,284.1 837.2,280.0 837.8,284.2 838.3,280.1 838.9,284.0 839.4,280.1 840.0,284.1 840.5,279.9 841.1,284.4 841.6,280.0 842.2,283.9 842.7,280.8 843.3,284.5 843.8,280.4 844.4,284.0 844.9,280.6 845.5,283.8 846.0,280.2 846.6,284.4 847.1,280.5 847.7,284.3 848.2,280.4 848.8,284.7 849.3,279.8 849.9,284.4 850.4,279.5 851.0,283.3 851.5,279.3 852.1,283.6 852.6,280.3 853.2,283.7 853.7,279.9 854.3,283.6 854.8,280.7 855.4,284.1 855.9,280.2 856.5,284.3 857.0,280.3 857.6,283.6 858.1,280.5 858.7,283.9 859.2,280.5 859.8,283.7 860.3,280.4 860.9,284.2 861.4,280.3 862.0,284.3 862.5,280.6 863.1,283.5 863.6,280.2 864.2,283.6 864.7,280.1 865.3,284.4 865.8,280.3 866.4,284.7 866.9,280.6 867.5,284.5 868.0,280.7 868.6,283.9 869.1,279.0 869.7,283.7 870.2,280.7 870.8,284.3 871.3,280.2 871.9,284.1 872.4,280.2 873.0,283.9 873.5,280.3 874.1,284.1 874.6,280.0 875.2,283.6 875.7,280.4 876.3,284.1 876.8,280.4 877.4,283.6 877.9,280.5 878.5,284.3 879.0,280.3 879.6,284.3 880.1,280.4 880.7,284.5 881.2,280.0 881.8,283.9 882.3,280.1 882.9,283.5 883.4,280.4 884.0,284.5 884.5,280.3 885.1,284.1 885.6,280.6 886.2,284.6 886.7,279.9 887.3,283.8 887.8,280.8 888.4,283.9 888.9,280.3 889.5,284.1 890.0,279.9 890.6,284.0 891.1,280.7 891.7,284.1 892.2,280.2 892.8,284.5 893.3,280.0 893.9,284.3 894.4,280.5 895.0,284.3 895.5,280.1 896.1,284.4 896.6,280.3 897.2,283.7 897.7,280.3 898.3,283.8 898.8,279.6 899.4,283.8 899.9,280.0 900.5,284.3 901.0,280.6 901.6,284.4 902.1,280.2 902.7,284.6 903.2,279.9 903.8,283.6 904.3,280.8 904.9,283.4 905.4,280.1 906.0,283.8 906.5,280.8 907.1,283.5 907.6,279.8 908.2,283.7 908.7,280.9 909.3,283.6 909.8,280.1 910.4,284.5 910.9,280.3 911.5,283.8 912.0,280.6 912.6,283.5 913.1,280.1 913.7,284.3 914.2,280.8 914.8,283.4 915.3,280.2 915.9,284.1 916.4,280.5 917.0,284.3 917.5,280.7 918.1,284.6 918.6,280.2 919.2,284.0 919.7,280.3 920.3,283.8 920.8,280.9 921.4,283.6 921.9,279.8 922.5,284.1 923.0,279.8 923.6,283.8 924.1,280.3 924.7,283.5 925.2,280.6 925.8,284.1 926.3,279.9 926.9,283.8 927.4,279.8 928.0,283.6 928.5,280.9 929.1,284.4 929.6,280.9 930.2,284.1 930.7,280.2 931.3,284.5 931.8,280.2 932.4,283.9 932.9,280.2 933.5,284.0 934.0,280.6 934.6,284.0 935.1,280.4 935.7,283.4 936.2,279.3 936.8,283.8 937.3,280.2 937.9,283.8 938.4,280.6 939.0,284.1 939.5,280.2 940.1,283.7 940.6,280.1 941.2,284.2 941.7,280.6 942.3,283.7 942.8,279.9 943.4,284.4 943.9,279.8 944.5,284.2 945.0,279.9 945.6,284.6 946.1,280.6 946.7,284.0 947.2,280.6 947.8,283.5 948.3,279.7 948.9,284.4 949.4,280.2 950.0,284.7 950.5,280.5 951.1,284.1 951.6,279.9 952.2,283.7 952.7,280.7 953.3,284.4 953.8,280.0 954.4,283.9 954.9,280.0 955.5,283.6 956.0,280.5 956.6,284.1 957.1,280.5 957.7,284.3 958.2,280.1 958.8,284.0 959.3,280.6 959.9,284.1 960.4,280.7 961.0,284.0 961.5,280.6 962.1,283.4 962.6,280.5 963.2,283.7" stroke="#373e48"/><path d="M587.4,281.0 587.4,261.5 591.0,259.5 593.2,256.6 593.8,270.0 594.8,281.0Z" fill="#373e48" stroke="none"/><path d="M606.6,281.0 606.6,260.5 608.3,260.5 608.3,238.8 613.2,238.8 613.2,281.0Z" fill="#373e48" stroke="none"/><path d="M647.6,281.0 651.1,255.4 653.2,266.0 654.5,268.0 655.6,281.0Z" fill="#373e48" stroke="none"/><path d="M686.8,281.0 689.2,253.2 691.4,281.0Z" fill="#373e48" stroke="none"/><path d="M768.6,281.0 768.6,257.6 774.4,257.6 774.4,281.0Z" fill="#373e48" stroke="none"/><path d="M809.6,281.0 809.6,268.6 816.2,268.6 816.2,281.0Z" fill="#373e48" stroke="none"/><path d="M573.8,283.0 574.3,277.4 574.9,282.9 575.4,278.4 576.0,273.7 576.5,277.0 577.1,283.6 577.6,277.0 578.2,283.6 578.7,278.0 579.3,286.2 579.8,278.3 580.4,285.9 580.9,278.6 581.5,284.5 582.0,278.6 582.6,284.8 583.1,270.7 583.7,282.8 584.2,270.4 584.8,286.8 585.3,278.6 585.9,287.0 586.4,278.2 587.0,286.2 587.5,277.1 588.0,273.7 588.6,278.2 589.2,287.8 589.7,279.3 590.3,287.5 590.8,277.3 591.4,282.9 591.9,278.5 592.5,282.9 593.0,278.1 593.6,282.6 594.1,277.0 594.7,286.6 595.2,277.9 595.8,288.5 596.3,279.2 597.0,273.7 597.4,277.3 598.0,283.5 598.5,277.7 599.1,287.9 599.6,277.7 600.2,288.7 600.7,278.5 601.3,288.5 601.8,278.6 602.4,283.1 602.9,278.4 603.5,283.2 604.0,278.6 604.6,283.1 605.1,276.7 605.7,286.1 606.2,268.8 606.8,283.8 607.3,268.4 607.9,284.7 608.4,268.7 609.0,286.2 609.5,278.7 610.1,283.7 610.6,278.1 611.2,293.2 611.7,278.2 612.3,283.0 612.8,273.2 613.4,283.1 613.9,278.1 614.5,288.8 615.0,277.8 615.6,286.3 616.1,277.8 616.7,282.9 617.2,277.6 617.8,283.2 618.3,278.6 618.9,285.7 619.4,277.8 620.0,285.5 620.5,268.8 621.1,282.5 621.6,267.4 622.2,282.7 622.7,268.4 623.3,289.4 623.8,278.9 624.4,289.2 624.9,278.3 625.5,288.5 626.0,278.1 626.6,288.2 627.1,278.5 627.7,282.6 628.2,268.9 628.8,288.8 629.3,268.8 629.9,282.2 630.4,269.4 630.7,265.0 631.0,286.7 631.5,272.4 632.1,283.3 632.6,273.3 633.2,291.2 633.7,273.7 634.3,291.9 634.8,277.9 635.4,284.0 635.9,271.4 636.5,282.5 637.0,271.1 637.6,282.1 638.1,271.2 638.7,291.9 639.2,278.0 639.8,293.1 640.3,277.7 640.9,283.6 641.4,277.3 642.1,265.0 642.5,273.2 643.1,285.2 643.6,273.5 644.2,284.3 644.7,277.9 645.3,283.4 645.8,277.8 646.4,283.8 646.9,277.1 647.5,287.3 648.0,278.7 648.6,286.5 649.1,277.2 649.7,283.5 650.2,277.0 650.8,283.6 651.3,277.6 651.9,283.9 652.4,278.3 653.0,283.7 653.5,277.4 654.1,284.1 654.6,276.6 655.0,272.7 655.7,278.3 656.3,287.9 656.8,278.7 657.4,285.3 657.9,278.4 658.5,283.5 659.0,268.8 659.6,288.3 660.1,267.7 660.7,285.2 660.7,280.4 661.0,31.8 662.6,31.8 662.6,280.4 662.6,31.8 664.2,31.8 664.5,280.4 664.5,277.8 665.1,282.7 665.6,209.9 666.2,286.1 666.7,209.9 667.3,285.6 667.8,209.9 668.4,285.6 668.9,277.4 669.5,282.6 670.0,277.2 670.6,284.1 671.1,277.5 671.7,283.1 672.2,278.1 672.8,288.0 673.5,259.9 673.9,287.3 674.4,273.5 675.0,289.0 675.5,273.6 676.1,284.4 676.6,276.4 677.2,284.5 677.7,277.6 678.3,294.0 678.8,271.4 679.2,262.4 679.9,276.8 680.5,291.5 681.0,278.7 681.6,291.5 682.1,267.0 682.7,286.2 683.2,266.6 683.8,282.3 684.3,266.2 684.9,282.3 685.4,266.6 686.0,283.6 686.5,267.6 687.1,284.9 687.6,277.4 688.2,291.2 688.7,266.1 689.3,283.6 689.8,277.8 690.4,283.4 690.9,264.9 691.5,283.1 692.0,265.1 692.6,282.5 693.1,266.6 693.7,283.9 694.2,278.5 694.8,285.9 695.3,278.4 695.9,292.4 696.4,278.2 697.0,283.2 697.5,277.5 698.1,283.5 698.6,276.8 699.2,281.9 699.7,265.9 700.3,291.7 700.8,266.3 701.4,291.3 701.9,277.9 702.5,283.7 703.0,269.5 703.6,282.2 704.1,278.5 704.7,297.7 705.2,277.2 705.6,280.4 705.9,104.6 707.4,104.6 707.4,280.4 707.4,104.6 708.9,104.6 709.2,280.4 709.6,232.6 710.2,281.0 710.7,234.8 711.3,287.8 711.8,277.7 712.5,266.0 712.9,274.3 713.5,285.0 714.0,277.8 714.6,284.3 715.1,278.3 715.7,284.7 716.2,279.0 716.8,284.2 717.0,268.6 717.3,273.7 717.9,283.2 718.4,276.6 719.0,290.9 719.5,277.2 720.1,289.7 720.6,279.2 721.2,285.7 721.7,274.4 722.0,270.1 722.3,288.7 722.8,277.4 723.4,288.9 723.9,276.8 724.5,285.8 725.0,270.7 725.6,286.3 726.1,270.9 726.7,288.0 727.0,271.2 727.2,273.1 727.8,288.0 728.3,274.5 728.9,288.6 729.4,270.6 730.0,285.8 730.5,270.4 731.1,285.3 731.6,270.3 732.2,284.7 732.7,270.6 733.3,288.5 733.8,271.0 734.4,282.8 734.9,272.7 735.5,283.6 736.0,272.1 736.6,282.8 737.1,276.0 737.7,283.5 738.2,276.1 738.8,284.0 739.3,276.0 739.9,284.7 740.4,275.7 741.0,283.1 741.5,278.8 742.1,285.6 742.6,279.8 743.2,282.5 743.7,274.1 744.3,287.2 744.8,274.5 745.4,286.6 745.9,274.7 746.5,288.4 747.0,272.5 747.7,265.0 748.1,273.0 748.7,287.4 749.2,273.7 749.8,286.5 750.3,273.9 750.9,284.5 751.4,273.6 752.0,284.5 752.5,273.7 753.1,284.8 753.6,278.9 754.2,283.3 754.7,279.3 755.3,288.5 755.8,279.4 756.4,283.4 756.9,279.6 757.5,283.0 758.0,279.6 758.6,282.9 759.1,275.6 759.7,285.2 760.2,274.6 760.8,283.4 761.3,271.5 761.6,266.0 761.9,282.2 762.4,273.6 763.0,282.6 763.5,273.7 764.1,285.2 764.6,280.0 765.2,284.9 765.7,276.7 766.3,283.4 766.8,276.7 767.4,283.4 767.9,279.7 768.5,284.0 769.0,280.4 769.6,284.0 770.1,280.5 770.7,286.6 771.2,280.4 771.8,286.3 772.3,279.9 772.9,286.4 773.4,280.4 774.0,284.6 774.5,279.9 775.1,283.5 775.6,279.8 776.2,283.5 776.5,260.7 776.7,266.7 777.3,284.4 777.8,280.7 778.4,284.5 778.9,280.3 779.5,283.4 780.0,280.1 780.6,285.0 781.1,280.4 781.7,283.4 782.2,280.6 782.8,283.2 783.3,280.6 783.9,283.1 784.4,279.6 785.0,283.2 785.5,276.5 786.1,282.8 786.6,276.3 787.2,285.3 787.7,277.7 788.3,285.1 788.8,277.5 789.4,284.2 789.9,277.7 790.5,284.3 791.0,280.2 791.6,283.3 792.1,279.9 792.7,284.0 793.2,280.6 793.8,282.7 794.3,275.5 794.9,282.6 795.4,274.7 796.0,285.5 796.5,278.8 797.1,285.8 797.6,278.9 798.2,285.3 798.7,276.7 799.3,284.9 800.0,276.3 800.4,282.8 800.9,279.7 801.5,285.2 802.0,280.5 802.6,283.6 803.1,280.7 803.7,283.2 804.2,280.2 804.8,283.8 805.3,280.7 805.9,283.1 806.4,281.0 807.0,282.8 807.5,281.1 808.1,284.3 808.6,280.4 809.2,283.1 809.7,280.7 810.3,283.6 810.8,274.7 811.4,282.9 811.9,275.5 812.5,283.2 813.0,277.2 813.6,282.6 814.1,277.6 814.7,282.9 815.2,280.7 815.8,285.7 816.3,281.0 816.9,283.0 817.4,280.8 818.0,283.2 818.5,280.4 819.1,285.0 819.6,280.8 820.2,285.0 820.7,280.8 821.3,284.2 821.8,278.4 822.4,283.9 822.9,278.5 823.5,283.6 824.0,280.0 824.6,283.0 825.1,280.1 825.7,283.2 826.2,280.5 826.8,284.1 827.3,276.6 827.9,283.5 828.4,276.7 829.0,283.7 829.5,280.5 830.1,283.2 830.6,281.2 831.2,283.0 831.7,280.5 832.3,284.0 832.8,280.7 833.4,284.0 833.9,278.4 834.5,283.2 835.0,281.1 835.6,285.3 836.1,280.7 836.7,285.0 837.2,280.4 837.8,283.0 838.3,281.1 838.9,283.3 839.4,280.6 840.0,284.3 840.5,280.5 841.1,284.2 841.6,277.6 842.0,276.3 842.7,279.1 843.3,283.4 843.8,281.0 844.4,283.6 844.9,280.4 845.5,283.5 846.0,280.4 846.6,283.6 847.0,277.8 847.7,283.0 848.2,280.3 848.8,285.2 849.3,280.6 849.9,285.1 850.4,280.2 851.0,283.4 851.5,279.8 852.1,283.3 852.6,279.6 853.2,283.4 853.7,281.1 854.3,284.1 854.8,281.0 855.4,283.6 855.9,280.9 856.5,284.9 857.0,280.2 857.6,284.8 858.0,276.8 858.7,282.8 859.2,276.9 859.8,283.0 860.3,277.6 860.9,283.5 861.4,277.9 862.0,283.1 862.5,280.2 863.1,283.1 863.6,280.5 864.2,283.4 864.7,281.0 865.3,283.4 865.8,280.5 866.4,283.3 866.9,280.6 867.5,283.8 868.0,280.5 868.6,284.6 869.1,281.1 869.7,287.1 870.2,280.2 870.8,284.6 871.3,280.4 871.9,284.6 872.4,280.1 873.0,284.7 873.5,280.9 874.1,282.9 874.6,277.3 875.0,275.3 875.7,278.3 876.3,283.7 876.8,278.1 877.4,283.5 877.9,278.4 878.5,283.7 879.0,280.8 879.6,282.9 880.1,277.5 880.7,282.6 881.2,277.4 881.8,282.8 882.3,277.2 882.9,283.9 883.4,280.9 884.0,283.4 884.5,273.7 884.8,269.6 885.1,283.6 885.6,278.1 886.2,283.0 886.7,277.7 887.3,283.1 887.8,277.9 888.4,283.6 888.9,278.0 889.5,283.3 890.0,275.1 890.6,284.6 891.1,275.3 891.7,285.0 892.2,280.3 892.8,285.0 893.3,280.7 893.9,282.9 894.4,280.6 895.0,283.2 895.5,280.4 896.1,284.0 896.6,281.2 897.2,283.0 897.7,281.0 898.3,284.6 898.8,280.6 899.4,284.7 899.9,280.4 900.5,283.5 901.0,275.1 901.6,282.7 902.1,275.4 902.7,284.1 903.2,281.0 903.8,282.9 904.3,280.6 904.9,283.2 905.4,276.6 906.0,273.7 906.5,276.8 907.1,283.1 907.6,280.3 908.2,283.1 908.7,280.7 909.3,283.4 909.8,280.3 910.4,283.2 910.9,279.4 911.5,284.4 912.0,279.5 912.6,283.5 913.1,280.8 913.7,283.3 914.2,280.8 914.8,284.2 915.3,281.0 915.9,283.1 916.4,280.2 917.0,283.5 917.5,280.7 918.1,282.8 918.6,280.2 919.2,282.9 919.7,280.4 920.3,282.7 921.0,275.8 921.4,283.6 921.9,279.6 922.5,283.4 923.0,280.4 923.6,283.2 924.1,280.9 924.7,284.7 925.2,279.4 925.8,284.6 926.3,280.5 926.9,283.3 927.4,280.8 928.0,283.5 928.5,280.8 929.1,283.8 929.6,281.1 930.2,283.3 930.7,280.8 931.3,283.6 931.8,281.1 932.4,283.0 932.9,279.6 933.5,283.2 934.0,276.6 934.6,283.4 935.1,277.2 935.7,282.5 936.2,277.3 936.8,283.5 937.3,277.2 937.9,283.3 938.4,277.9 939.0,283.1 939.5,280.7 940.1,284.7 940.6,276.4 941.0,274.2 941.7,278.0 942.3,284.5 942.8,281.2 943.4,284.8 943.9,276.4 944.5,272.7 945.0,276.0 945.6,283.4 946.1,274.8 946.7,283.5 947.2,280.7 947.8,283.7 948.3,280.9 948.9,283.2 949.4,278.7 950.0,283.2 950.5,280.7 951.1,282.9 951.6,280.2 952.2,283.3 952.7,280.7 953.3,283.1 953.8,280.6 954.4,284.6 954.9,277.2 955.5,274.2 956.0,276.9 956.6,283.2 957.1,280.2 957.7,283.0 958.2,274.6 958.8,283.4 959.3,274.7 959.9,283.7 960.4,281.2 961.0,282.8 961.5,279.6 962.1,283.5 962.6,280.6 963.2,283.7" stroke="#00bfff"/><path d="M600.4,280.0 600.4,268.2 607.0,268.2 607.0,264.8 613.2,264.8 613.2,280.0Z" fill="#00bfff" stroke="none"/><path d="M683.8,280.0 683.8,263.8 691.6,263.8 691.6,280.0Z" fill="#00bfff" stroke="none"/><path d="M693.1,280.0 693.1,258.8 698.1,258.8 698.1,280.0Z" fill="#00bfff" stroke="none"/><path d="M701.9,280.0 701.9,149.5 706.5,149.5 706.5,280.0Z" fill="#00bfff" stroke="none"/></g><text x="638.73" y="363.4" font-size="34" text-anchor="middle" class="s">900</text><text x="768.60" y="363.4" font-size="34" text-anchor="middle" class="s">910</text><text x="898.47" y="363.4" font-size="34" text-anchor="middle" class="s">920</text><text x="624.90" y="412.2" font-size="38" letter-spacing="-0.74" class="s">wavelength</text><text transform="translate(805.50,412.2) skewX(10)" x="0" y="0" font-size="40" font-style="italic" class="s">λ</text><text x="838.65" y="412.2" font-size="37.5" class="s">(nm)</text><rect x="715.60" y="11.1" width="235.60" height="64.20" fill="#fff" stroke="#000" stroke-width="2"/><text x="736.00" y="53.3" font-size="38" font-style="italic" class="s">e</text><text x="752.50" y="58.9" font-size="29" class="s">recon</text><path d="M829.00 40.2H853.80M829.00 47.1H853.80" stroke="#000" stroke-width="1.8"/><text x="864.40" y="53.2" font-size="37.5" class="s">1.26</text><path d="M1087.53 308.95V0.80M1217.40 308.95V0.80M1347.27 308.95V0.80M1027.20 282.95H1412.20M1027.20 231.70H1412.20M1027.20 180.45H1412.20M1027.20 129.20H1412.20M1027.20 77.95H1412.20M1027.20 26.70H1412.20" stroke="#000" stroke-width="1.4" stroke-dasharray="1.15 3.817" fill="none" opacity="1"/><rect x="1022.60" y="0.80" width="389.60" height="307.80" fill="none" stroke="#000" stroke-width="2"/><path d="M1087.53 308.60V326.10M1217.40 308.60V326.10M1347.27 308.60V326.10M1022.60 282.95H1004.60M1022.60 231.70H1004.60M1022.60 180.45H1004.60M1022.60 129.20H1004.60M1022.60 77.95H1004.60M1022.60 26.70H1004.60" stroke="#000" stroke-width="2" fill="none"/><g fill="none" stroke-width="2.0" stroke-linejoin="round" stroke-linecap="butt"><path d="M1022.6,247.4 1023.1,198.9 1023.7,247.4 1024.2,198.9 1024.8,247.4 1025.3,198.9 1025.9,247.4 1026.4,197.2 1027.0,247.4 1027.5,195.8 1028.1,260.8 1028.6,205.4 1029.2,257.7 1029.7,204.8 1030.3,257.7 1030.8,207.1 1031.4,254.6 1031.9,205.8 1032.5,264.5 1033.0,207.5 1033.6,264.5 1034.1,207.5 1034.7,267.1 1035.2,207.5 1035.8,244.1 1036.3,206.9 1036.9,242.6 1037.4,203.0 1038.0,242.6 1038.5,204.5 1039.1,245.0 1039.6,202.9 1040.2,247.9 1040.7,203.3 1041.3,246.7 1041.8,204.5 1042.4,246.7 1042.9,204.5 1043.5,262.2 1044.0,196.6 1044.6,265.0 1045.1,196.6 1045.7,262.8 1046.2,196.6 1046.8,262.8 1047.3,193.3 1047.9,244.8 1048.4,196.2 1049.0,243.4 1049.5,196.3 1050.1,242.9 1050.6,199.7 1051.2,245.8 1051.7,198.1 1052.3,242.9 1052.8,200.4 1053.4,236.8 1053.9,199.7 1054.5,239.7 1055.0,199.5 1055.6,237.9 1056.1,211.3 1056.7,238.5 1057.2,214.3 1057.8,253.5 1058.3,190.7 1058.9,256.5 1059.4,190.7 1060.0,256.5 1060.5,190.7 1061.1,256.5 1061.6,190.7 1062.2,254.6 1062.7,202.0 1063.3,239.8 1063.8,205.1 1064.4,242.2 1064.9,205.1 1065.5,241.2 1066.0,194.3 1066.6,241.8 1067.1,194.3 1067.7,244.2 1068.2,193.0 1068.8,244.1 1069.3,212.9 1069.9,257.7 1070.4,215.6 1071.0,257.7 1071.5,213.5 1072.1,257.9 1072.6,215.6 1073.2,236.3 1073.7,215.6 1074.3,236.0 1074.8,215.4 1075.4,235.9 1075.9,213.2 1076.5,243.0 1077.0,202.8 1077.6,243.8 1078.1,202.6 1078.7,243.0 1079.2,202.7 1079.8,243.0 1080.3,202.8 1080.9,251.7 1081.4,199.7 1082.0,251.5 1082.5,202.8 1083.1,251.5 1083.6,213.5 1084.2,239.0 1084.7,211.2 1085.3,236.4 1085.8,213.5 1086.4,238.1 1086.9,213.3 1087.5,254.3 1088.0,212.8 1088.6,254.3 1089.1,206.5 1089.7,254.3 1090.2,206.5 1090.8,247.8 1091.3,206.5 1091.9,249.5 1092.4,205.3 1093.0,247.8 1093.5,206.5 1094.1,239.0 1094.6,203.8 1095.2,238.9 1095.7,205.4 1096.3,238.7 1096.8,206.5 1097.4,249.3 1097.8,252.2 1098.1,26.7 1099.6,26.7 1099.6,252.2 1099.6,26.7 1101.1,26.7 1101.4,252.2 1101.8,249.3 1102.3,203.6 1102.9,239.2 1103.4,203.6 1104.0,239.2 1104.5,203.6 1105.1,240.5 1105.6,200.5 1106.2,239.2 1106.7,207.2 1107.3,240.7 1107.8,205.9 1108.4,244.6 1108.9,207.8 1109.5,244.6 1110.0,207.8 1110.6,247.5 1111.1,192.8 1111.7,245.6 1112.2,194.0 1112.8,246.3 1113.3,190.9 1113.9,255.6 1114.4,190.9 1115.0,255.6 1115.5,190.9 1116.1,255.6 1116.6,190.9 1117.2,255.6 1117.7,190.9 1118.3,255.6 1118.8,193.9 1119.4,248.5 1119.9,193.9 1120.5,247.2 1121.0,190.9 1121.6,258.1 1122.1,190.9 1122.7,258.1 1123.2,190.9 1123.8,234.8 1124.3,205.3 1124.9,237.0 1125.4,205.6 1126.0,237.0 1126.5,205.8 1127.1,235.0 1127.6,204.7 1128.2,238.3 1128.7,195.3 1129.3,239.6 1129.8,196.3 1130.4,238.3 1130.9,196.3 1131.5,238.3 1132.0,195.0 1132.6,238.3 1133.1,196.3 1133.7,237.0 1134.2,196.3 1134.8,236.2 1135.3,193.4 1135.9,236.2 1136.4,191.9 1137.0,236.2 1137.5,193.4 1138.1,239.2 1138.6,193.4 1139.2,245.5 1139.7,193.4 1140.3,245.5 1140.8,193.4 1141.4,247.7 1141.9,192.7 1142.5,245.5 1143.0,201.1 1143.6,245.5 1144.1,201.1 1144.7,243.8 1145.2,201.1 1145.8,241.1 1146.3,198.4 1146.9,242.8 1147.4,201.1 1148.0,249.5 1148.5,201.1 1149.1,249.5 1149.6,201.1 1150.2,249.5 1150.7,195.2 1151.3,249.5 1151.8,192.2 1152.4,261.6 1152.9,192.2 1153.5,261.6 1154.0,192.2 1154.6,261.6 1155.1,192.2 1155.7,236.3 1156.2,186.1 1156.8,238.0 1157.3,185.1 1157.9,236.3 1158.4,186.1 1159.0,236.3 1159.5,187.5 1160.1,261.0 1160.6,187.5 1161.2,261.0 1161.7,187.5 1162.3,261.0 1162.8,185.6 1163.4,261.0 1163.9,185.6 1164.5,261.0 1165.0,188.6 1165.6,237.2 1166.1,198.3 1166.7,237.2 1167.2,197.3 1167.8,237.2 1168.3,195.6 1168.9,238.2 1169.4,196.7 1170.0,251.2 1170.5,196.7 1171.1,251.2 1171.6,196.7 1172.2,253.6 1172.7,196.7 1173.3,239.3 1173.8,194.2 1174.4,238.6 1174.9,196.1 1175.5,239.6 1176.0,211.0 1176.6,236.6 1177.1,213.5 1177.7,235.9 1178.2,212.5 1178.8,235.8 1179.3,213.5 1179.9,235.8 1180.4,211.5 1181.0,253.5 1181.5,209.8 1182.1,253.5 1182.6,208.8 1183.2,255.6 1183.7,211.1 1184.3,253.5 1184.8,202.3 1185.4,254.7 1185.9,201.3 1186.3,252.2 1186.6,97.7 1188.0,97.7 1188.0,252.2 1188.1,97.7 1189.5,97.7 1189.8,252.2 1190.3,200.4 1190.9,254.0 1191.4,199.9 1192.0,252.3 1192.5,204.1 1193.1,254.8 1193.6,202.6 1194.2,252.3 1194.7,201.4 1195.3,255.2 1195.8,204.1 1196.4,238.3 1196.9,195.4 1197.5,236.5 1198.0,195.1 1198.6,237.6 1199.1,196.0 1199.7,236.5 1200.2,196.0 1200.8,245.8 1201.3,193.8 1201.9,248.0 1202.4,193.8 1203.0,248.3 1203.5,193.8 1204.1,248.1 1204.6,190.9 1205.2,246.5 1205.7,193.8 1206.3,254.9 1206.8,190.7 1207.4,251.9 1207.9,199.7 1208.5,251.9 1209.0,202.7 1209.6,254.3 1210.1,202.5 1210.7,254.3 1211.2,200.1 1211.8,257.4 1212.3,191.5 1212.9,257.4 1213.4,191.5 1214.0,257.4 1214.5,187.7 1215.1,264.0 1215.6,187.7 1216.2,264.0 1216.7,187.7 1217.3,264.0 1217.8,187.7 1218.4,264.0 1218.9,187.7 1219.5,251.9 1220.0,189.4 1220.6,237.6 1221.1,201.5 1221.7,237.7 1222.2,202.5 1222.8,237.7 1223.3,201.1 1223.9,236.9 1224.4,203.7 1225.0,250.8 1225.5,203.7 1226.1,249.8 1226.6,203.7 1227.2,249.8 1227.7,203.7 1228.3,250.2 1228.8,191.3 1229.4,249.8 1229.9,194.0 1230.5,242.7 1231.0,194.0 1231.6,242.7 1232.1,194.0 1232.7,242.7 1233.2,193.1 1233.8,242.7 1234.3,196.7 1234.9,233.8 1235.4,197.5 1236.0,236.1 1236.5,197.5 1237.1,233.8 1237.6,197.5 1238.2,233.8 1238.7,197.5 1239.3,236.6 1239.8,197.5 1240.4,239.6 1240.9,197.5 1241.5,242.6 1242.0,203.3 1242.6,242.9 1243.1,200.4 1243.7,242.9 1244.2,200.7 1244.8,248.9 1245.3,195.1 1245.9,249.6 1246.4,195.1 1247.0,246.6 1247.5,195.1 1248.1,246.6 1248.6,195.1 1249.2,246.6 1249.7,192.4 1250.3,238.3 1250.8,195.1 1251.4,238.3 1251.9,195.1 1252.5,251.1 1253.0,195.1 1253.6,251.3 1254.1,213.4 1254.7,251.1 1255.2,213.1 1255.8,240.9 1256.3,212.1 1256.9,240.2 1257.4,201.9 1258.0,240.1 1258.5,204.1 1259.1,246.6 1259.6,201.0 1260.2,246.8 1260.7,204.1 1261.3,248.7 1261.8,206.1 1262.4,246.6 1262.9,204.6 1263.5,248.4 1264.0,207.2 1264.6,235.5 1265.1,204.5 1265.7,237.9 1266.2,187.4 1266.8,236.5 1267.3,188.9 1267.9,235.3 1268.4,190.2 1269.0,236.0 1269.5,188.5 1270.1,233.7 1270.6,190.2 1271.2,231.8 1271.7,187.4 1272.3,233.3 1272.8,190.2 1273.4,229.7 1273.9,190.2 1274.5,229.7 1275.0,187.5 1275.6,232.6 1276.1,199.5 1276.7,230.3 1277.2,200.6 1277.8,232.5 1278.3,200.6 1278.9,230.9 1279.4,193.7 1280.0,231.8 1280.5,186.4 1281.1,225.8 1281.6,181.5 1282.2,223.0 1282.7,176.2 1283.3,222.9 1283.8,172.5 1284.4,220.3 1284.9,167.4 1285.5,214.5 1286.0,160.9 1286.6,211.7 1287.1,155.3 1287.7,208.9 1288.2,146.0 1288.8,209.2 1289.3,139.6 1289.9,206.3 1290.4,133.2 1291.0,202.2 1291.5,126.7 1292.1,198.0 1292.6,121.7 1293.2,193.8 1293.7,117.8 1294.3,189.5 1294.8,113.9 1295.4,185.3 1295.9,109.9 1296.5,181.1 1297.0,106.1 1297.6,176.9 1298.1,106.1 1298.7,172.6 1299.2,106.1 1299.8,167.1 1300.3,106.1 1300.9,167.8 1301.4,132.3 1302.0,170.6 1302.5,111.6 1303.1,146.2 1303.6,113.1 1304.2,145.5 1304.7,113.1 1305.3,143.4 1305.8,113.0 1306.4,149.5 1306.9,142.5 1307.5,150.0 1308.0,117.1 1308.6,187.6 1309.1,115.1 1309.7,187.6 1310.2,115.1 1310.8,187.6 1311.3,137.4 1311.9,184.5 1312.4,137.4 1313.0,144.4 1313.5,118.2 1314.1,145.2 1314.6,117.2 1315.2,144.4 1315.7,116.1 1316.3,142.7 1316.8,91.3 1317.4,169.4 1317.9,88.2 1318.5,169.4 1319.0,88.2 1319.6,169.4 1320.1,88.2 1320.7,169.4 1321.2,88.2 1321.8,169.4 1322.3,111.8 1322.9,166.3 1323.4,134.8 1324.0,167.1 1324.5,135.4 1325.1,152.9 1325.6,111.8 1326.2,152.9 1326.7,111.8 1327.3,155.6 1327.8,130.0 1328.4,177.6 1328.9,132.3 1329.5,180.1 1330.0,88.7 1330.6,180.1 1331.1,88.7 1331.7,181.8 1332.2,88.7 1332.8,181.8 1333.3,88.7 1333.9,181.8 1334.4,88.7 1335.0,170.1 1335.5,88.7 1336.1,170.1 1336.6,88.7 1337.2,169.5 1337.7,111.8 1338.3,168.7 1338.8,142.1 1339.4,155.0 1339.9,141.3 1340.5,155.5 1341.0,132.2 1341.6,150.2 1342.1,130.3 1342.7,152.3 1343.2,109.2 1343.8,150.1 1344.3,111.2 1344.9,183.0 1345.4,108.7 1346.0,183.0 1346.5,110.9 1347.1,129.2 1347.6,129.2 1348.2,129.2 1348.7,129.2 1349.3,129.2 1349.8,129.2 1350.4,129.2 1350.9,129.2 1351.5,155.3 1352.0,156.2 1352.6,181.7 1353.1,154.9 1353.7,180.8 1354.2,157.9 1354.8,182.6 1355.3,157.9 1355.9,182.3 1356.4,157.9 1357.0,179.9 1357.5,157.9 1358.1,167.4 1358.6,142.9 1359.2,168.4 1359.7,145.1 1360.3,169.7 1360.8,83.1 1361.4,169.7 1361.9,83.1 1362.5,189.5 1363.0,83.1 1363.6,189.5 1364.1,83.1 1364.7,189.5 1365.2,83.1 1365.8,189.5 1366.3,83.1 1366.9,182.3 1367.4,106.1 1368.0,182.3 1368.5,106.1 1369.1,181.9 1369.6,132.0 1370.2,181.5 1370.7,132.3 1371.3,181.8 1371.8,106.1 1372.4,178.7 1372.9,127.2 1373.5,178.7 1374.0,106.1 1374.6,159.6 1375.1,109.2 1375.7,160.0 1376.2,108.3 1376.8,161.9 1377.3,106.1 1377.9,187.0 1378.4,117.9 1379.0,187.0 1379.5,117.9 1380.1,187.0 1380.6,117.9 1381.2,187.0 1381.7,118.2 1382.3,156.2 1382.8,142.4 1383.4,157.4 1383.9,142.5 1384.5,186.4 1385.0,115.1 1385.6,186.4 1386.1,115.1 1386.7,186.4 1387.2,137.4 1387.8,166.3 1388.3,136.7 1388.9,164.6 1389.4,118.2 1390.0,164.6 1390.5,118.2 1391.1,162.1 1391.6,118.1 1392.2,161.6 1392.7,142.6 1393.3,163.0 1393.8,143.5 1394.4,171.7 1394.9,143.5 1395.5,171.3 1396.0,156.1 1396.6,171.2 1397.1,140.8 1397.7,143.7 1398.2,140.7 1398.8,144.2 1399.3,158.1 1399.9,146.2 1400.4,159.3 1401.0,152.6 1401.5,157.9 1402.1,195.5 1402.6,157.9 1403.2,195.5 1403.7,157.9 1404.3,193.1 1404.8,157.1 1405.4,195.3 1405.9,157.9 1406.5,192.8 1407.0,115.1 1407.6,195.8 1408.1,115.1 1408.7,195.8 1409.2,115.1 1409.8,146.5 1410.3,109.3 1410.9,115.2 1411.4,78.0 1412.0,85.3" stroke="#373e48"/><path d="M1022.6,233.2 1023.1,222.4 1023.7,233.6 1024.2,221.4 1024.8,231.9 1025.3,213.5 1025.9,236.7 1026.4,207.0 1027.0,234.1 1027.5,208.6 1028.1,231.5 1028.6,225.0 1029.2,236.8 1029.7,222.9 1030.3,237.8 1030.8,223.7 1031.4,232.1 1031.9,222.7 1032.5,236.2 1033.0,222.8 1033.6,233.9 1034.1,205.4 1034.7,234.4 1035.2,223.2 1035.8,233.6 1036.3,221.3 1036.9,233.0 1037.4,223.5 1038.0,234.1 1038.5,219.1 1039.0,207.1 1039.6,207.6 1040.2,239.1 1040.7,207.9 1041.0,207.1 1041.3,236.0 1041.8,218.9 1042.4,238.8 1042.9,209.6 1043.5,233.6 1044.0,204.9 1044.6,231.7 1045.1,204.9 1045.7,233.1 1046.2,213.9 1046.8,231.7 1047.3,217.5 1047.9,231.7 1048.4,221.7 1049.0,236.4 1049.5,219.8 1050.1,236.2 1050.6,204.2 1051.2,235.0 1051.7,223.5 1052.3,233.3 1052.8,223.5 1053.4,232.3 1053.9,223.9 1054.5,231.4 1055.0,213.0 1055.6,232.4 1056.1,219.2 1056.7,232.4 1057.2,218.4 1057.8,237.2 1058.3,210.1 1059.0,207.1 1059.4,208.7 1060.0,233.8 1060.5,207.9 1061.0,207.1 1061.6,219.5 1062.2,235.8 1062.7,219.4 1063.3,231.9 1063.8,218.2 1064.4,230.7 1064.9,217.0 1065.5,232.5 1066.0,216.0 1066.6,233.2 1067.1,221.3 1067.7,233.0 1068.2,222.8 1068.8,233.5 1069.3,224.4 1069.9,237.2 1070.4,223.4 1071.0,237.8 1071.5,221.5 1072.1,235.3 1072.6,223.0 1073.2,233.8 1073.7,217.1 1074.0,209.7 1074.3,231.9 1074.8,212.7 1075.4,232.6 1076.0,209.7 1076.5,233.6 1077.0,204.3 1077.6,232.5 1078.1,210.5 1078.7,233.5 1079.2,219.6 1079.8,234.3 1080.3,219.8 1080.9,233.8 1081.4,211.9 1082.0,231.1 1082.5,204.3 1083.1,237.1 1083.6,204.5 1084.2,238.5 1084.7,223.6 1085.3,232.8 1085.8,223.3 1086.4,236.0 1086.9,211.5 1087.5,232.9 1088.0,211.5 1088.6,233.5 1089.0,212.2 1089.7,232.0 1090.2,213.9 1090.8,233.6 1091.0,212.2 1091.3,219.2 1091.9,232.6 1092.4,221.6 1093.0,231.7 1093.5,220.9 1094.1,234.5 1094.6,216.9 1095.2,234.3 1095.7,220.4 1096.3,238.3 1096.8,220.1 1097.4,237.8 1097.8,226.6 1098.1,44.6 1099.6,44.6 1099.6,226.6 1099.6,44.6 1101.1,44.6 1101.4,226.6 1101.8,232.7 1102.4,191.7 1102.9,230.1 1103.4,194.8 1104.0,231.4 1104.4,191.7 1105.1,233.3 1105.6,222.9 1106.2,235.8 1106.7,202.1 1107.3,231.2 1107.8,202.7 1108.4,233.3 1108.9,218.7 1109.5,234.1 1110.0,217.6 1110.6,232.8 1111.1,218.2 1111.7,233.5 1112.2,222.9 1112.8,232.8 1113.3,223.2 1113.9,235.3 1114.4,221.8 1115.0,234.5 1115.5,222.7 1116.1,233.3 1116.6,189.3 1117.0,173.8 1117.7,173.8 1118.3,234.6 1119.0,173.8 1119.4,232.4 1119.9,211.4 1120.5,234.3 1121.0,214.0 1121.6,232.1 1122.1,221.7 1122.7,230.3 1123.2,188.6 1123.8,233.9 1124.3,191.7 1124.9,233.9 1125.2,188.6 1125.4,199.6 1126.0,233.9 1126.5,209.1 1127.1,232.5 1127.6,222.1 1128.2,232.9 1128.7,220.7 1129.3,235.9 1129.8,220.4 1130.4,234.4 1130.9,222.2 1131.5,237.4 1132.0,223.2 1132.6,236.4 1133.1,216.3 1133.7,232.3 1134.2,217.5 1134.8,232.7 1135.3,222.4 1135.9,235.6 1136.4,223.7 1137.0,233.4 1137.5,208.2 1138.1,238.2 1138.6,224.2 1139.2,236.5 1139.7,211.1 1140.3,231.6 1140.8,208.9 1141.4,232.9 1141.9,209.1 1142.5,232.4 1143.2,190.4 1143.6,230.1 1144.1,192.6 1144.7,232.4 1145.2,190.4 1145.8,233.4 1146.3,209.8 1146.9,232.5 1147.4,221.1 1148.0,232.4 1148.5,224.1 1149.1,233.3 1149.6,220.2 1150.2,232.8 1150.7,220.0 1151.3,233.0 1151.8,223.5 1152.4,232.0 1152.9,223.0 1153.5,229.9 1154.0,206.3 1154.6,193.8 1155.1,194.6 1155.7,231.0 1156.2,196.8 1156.6,193.8 1157.3,218.2 1157.9,238.1 1158.4,222.3 1159.0,234.2 1159.5,215.9 1160.1,233.4 1160.6,215.7 1161.2,231.4 1161.7,213.7 1162.3,232.3 1162.8,212.0 1163.4,231.8 1163.9,222.4 1164.5,233.2 1165.0,223.7 1165.6,233.0 1166.1,223.5 1166.7,232.7 1167.2,215.2 1167.6,226.6 1167.9,133.8 1169.4,135.6 1169.5,226.6 1169.5,135.6 1171.0,137.4 1171.3,226.6 1171.6,210.4 1172.2,234.4 1172.7,208.7 1173.3,233.0 1173.8,205.5 1174.4,233.9 1174.9,203.3 1175.5,233.4 1176.0,217.6 1176.6,234.6 1177.1,223.0 1177.7,236.8 1178.2,224.1 1178.8,234.7 1179.3,207.7 1179.9,231.8 1180.4,207.4 1181.0,231.9 1181.5,221.6 1182.1,232.2 1182.6,221.6 1183.2,232.0 1183.7,224.6 1184.3,235.5 1184.8,222.9 1185.4,234.3 1185.9,221.8 1186.5,234.7 1187.0,223.9 1187.6,231.7 1188.1,223.4 1188.7,232.7 1189.2,223.8 1189.8,232.7 1190.3,223.5 1190.9,231.7 1191.4,207.7 1192.0,232.9 1192.5,221.2 1193.1,232.4 1193.6,206.7 1194.2,230.0 1194.7,208.7 1195.3,233.7 1195.8,222.4 1196.4,232.2 1196.9,220.0 1197.5,237.0 1198.0,217.5 1198.6,232.9 1199.0,195.3 1199.7,230.4 1200.2,197.8 1200.8,232.8 1201.0,195.3 1201.3,206.5 1201.9,232.3 1202.4,214.0 1203.0,233.2 1203.5,222.7 1204.1,233.1 1204.6,195.3 1205.2,234.4 1205.7,196.3 1206.3,232.6 1206.6,195.3 1206.8,203.4 1207.4,231.8 1207.9,222.7 1208.5,235.2 1209.0,222.1 1209.6,234.2 1210.1,211.4 1210.7,234.9 1211.2,209.8 1211.8,234.3 1212.3,212.0 1212.6,202.2 1212.9,232.3 1213.4,203.6 1214.0,232.3 1214.6,202.2 1215.1,231.4 1215.6,223.0 1216.2,232.6 1216.7,216.9 1217.3,233.9 1217.8,219.0 1218.4,233.2 1218.9,218.4 1219.5,234.5 1220.0,228.1 1220.6,239.0 1221.1,228.9 1221.7,239.4 1222.2,230.5 1222.8,239.9 1223.3,222.4 1223.9,238.4 1224.4,222.4 1225.0,239.5 1225.5,228.3 1226.1,240.1 1226.6,229.2 1227.2,239.0 1227.7,225.9 1228.3,237.2 1228.8,215.6 1229.4,236.9 1229.9,215.0 1230.5,238.1 1231.0,208.2 1231.6,236.2 1232.1,208.6 1232.7,237.7 1233.2,226.3 1233.8,236.1 1234.3,226.9 1234.9,235.7 1235.4,224.7 1236.0,237.7 1236.5,224.7 1237.1,239.1 1237.6,219.5 1238.2,234.7 1238.7,220.3 1239.3,235.7 1239.8,189.0 1240.3,171.2 1240.9,171.2 1241.5,238.3 1242.0,171.2 1242.3,171.2 1242.6,234.2 1243.1,205.6 1243.7,234.2 1244.2,215.1 1244.8,237.0 1245.3,218.7 1245.9,236.9 1246.4,224.8 1247.0,236.6 1247.5,223.7 1248.1,236.3 1248.6,213.1 1249.2,233.2 1249.7,212.3 1250.3,232.8 1250.8,219.6 1251.4,232.5 1251.9,218.7 1252.5,231.1 1253.0,223.5 1253.6,232.1 1254.1,224.2 1254.7,231.4 1255.2,220.1 1255.8,230.8 1256.0,196.8 1256.3,199.9 1256.9,232.6 1257.4,199.1 1258.0,196.8 1258.5,188.3 1259.0,171.2 1259.6,174.3 1260.2,228.5 1260.7,171.8 1261.0,171.2 1261.3,230.6 1261.8,204.6 1262.4,228.3 1262.9,205.0 1263.5,231.1 1264.0,215.7 1264.6,230.8 1265.1,214.8 1265.7,231.7 1266.2,221.6 1266.8,233.1 1267.3,201.8 1267.9,234.6 1268.4,200.4 1269.0,232.2 1269.5,205.4 1270.1,228.1 1270.6,206.1 1271.2,233.5 1271.7,221.8 1272.3,230.2 1272.8,220.4 1273.4,230.5 1273.9,221.6 1274.5,229.6 1275.0,221.0 1275.6,229.7 1276.1,220.6 1276.7,230.6 1277.2,221.1 1277.8,230.4 1278.3,220.3 1278.9,232.4 1279.4,219.8 1280.0,232.5 1280.5,212.6 1281.1,232.0 1281.6,210.2 1282.2,229.3 1282.7,179.6 1283.0,166.9 1283.3,233.6 1283.8,166.9 1284.4,233.6 1285.0,166.9 1285.5,231.7 1286.0,209.7 1286.6,234.2 1287.1,213.2 1287.7,234.2 1288.2,178.5 1288.8,225.5 1289.3,179.9 1289.9,226.2 1290.4,179.8 1291.0,223.4 1291.5,137.6 1292.1,223.4 1292.6,130.2 1293.2,236.1 1293.7,130.2 1294.3,236.1 1294.8,200.1 1295.4,218.8 1295.9,200.4 1296.5,218.9 1297.0,113.8 1297.6,234.3 1298.1,113.8 1298.7,234.3 1299.2,113.8 1299.8,234.4 1300.3,139.9 1300.9,234.4 1301.4,150.3 1302.0,234.4 1302.5,150.3 1303.1,223.8 1303.6,150.3 1304.2,220.7 1304.7,182.4 1305.3,223.5 1305.8,193.6 1306.4,223.1 1306.9,190.6 1307.5,234.3 1308.0,193.6 1308.6,235.5 1309.1,149.9 1309.7,236.0 1310.2,149.9 1310.8,236.0 1311.3,179.5 1311.9,233.6 1312.4,179.5 1313.0,228.5 1313.5,65.1 1314.1,225.7 1314.6,65.1 1315.2,225.7 1315.7,147.4 1316.3,226.5 1316.8,200.5 1317.4,228.8 1317.9,200.2 1318.5,223.6 1319.0,184.5 1319.6,224.5 1320.1,187.3 1320.7,224.9 1321.2,157.3 1321.8,236.3 1322.3,157.3 1322.9,236.3 1323.4,151.2 1324.0,225.8 1324.5,149.0 1325.1,225.8 1325.6,149.0 1326.2,224.5 1326.7,149.0 1327.3,221.4 1327.8,182.3 1328.4,232.3 1328.9,97.2 1329.5,222.8 1330.0,97.2 1330.6,222.8 1331.1,97.2 1331.7,222.8 1332.2,136.3 1332.8,236.1 1333.3,201.6 1333.9,236.0 1334.4,121.3 1335.0,235.3 1335.5,121.3 1336.1,224.6 1336.6,121.3 1337.2,224.6 1337.7,162.1 1338.3,220.1 1338.8,160.0 1339.4,222.4 1339.9,173.4 1340.5,225.0 1341.0,65.1 1341.6,225.0 1342.1,65.1 1342.7,227.1 1343.2,185.7 1343.8,226.5 1344.3,184.1 1344.9,229.4 1345.4,198.9 1346.0,229.3 1346.5,198.9 1347.1,227.9 1347.6,198.9 1348.2,228.8 1348.7,198.9 1349.3,230.1 1349.8,198.9 1350.4,229.2 1350.9,198.9 1351.5,229.4 1352.0,171.1 1352.6,230.9 1353.1,175.2 1353.7,229.7 1354.2,175.2 1354.8,226.7 1355.3,175.2 1355.9,229.7 1356.4,154.3 1357.0,232.3 1357.5,154.3 1358.1,232.3 1358.6,141.8 1359.2,226.1 1359.7,141.8 1360.3,226.1 1360.8,150.8 1361.4,228.6 1361.9,150.8 1362.5,228.6 1363.0,150.8 1363.6,227.8 1364.1,162.1 1364.7,227.8 1365.2,162.1 1365.8,231.1 1366.3,167.0 1366.9,231.1 1367.4,167.0 1368.0,231.1 1368.5,167.0 1369.1,234.2 1369.6,85.6 1370.2,225.4 1370.7,85.6 1371.3,225.4 1371.8,85.6 1372.4,221.2 1372.9,163.2 1373.5,222.4 1374.0,153.6 1374.6,226.7 1375.1,153.6 1375.7,226.7 1376.2,149.0 1376.8,226.7 1377.3,126.6 1377.9,232.1 1378.4,126.6 1379.0,232.1 1379.5,128.1 1380.1,230.1 1380.6,197.2 1381.2,230.4 1381.7,197.2 1382.3,233.4 1382.8,139.6 1383.4,234.5 1383.9,65.1 1384.5,229.7 1385.0,65.1 1385.6,229.7 1386.1,65.1 1386.7,229.7 1387.2,170.7 1387.8,223.7 1388.3,157.9 1388.9,226.7 1389.4,159.3 1390.0,236.4 1390.5,159.3 1391.1,236.4 1391.6,194.8 1392.2,220.3 1392.7,193.5 1393.3,221.9 1393.8,65.1 1394.4,221.9 1394.9,65.1 1395.5,225.1 1396.0,165.1 1396.6,221.7 1397.1,166.3 1397.7,223.5 1398.2,160.2 1398.8,231.6 1399.3,160.2 1399.9,231.6 1400.4,192.9 1401.0,222.5 1401.5,192.9 1402.1,221.8 1402.6,206.4 1403.2,233.3 1403.7,209.1 1404.3,233.3 1404.8,209.1 1405.4,234.8 1405.9,208.0 1406.5,225.1 1407.0,208.8 1407.6,224.9 1408.1,207.4 1408.7,225.0 1409.2,206.6 1409.8,234.3 1410.3,207.5 1410.9,235.1 1411.4,134.1 1412.0,229.5" stroke="#00bfff"/></g><text x="1087.53" y="363.4" font-size="34" text-anchor="middle" class="s">900</text><text x="1217.40" y="363.4" font-size="34" text-anchor="middle" class="s">910</text><text x="1347.27" y="363.4" font-size="34" text-anchor="middle" class="s">920</text><text x="1073.70" y="412.2" font-size="38" letter-spacing="-0.74" class="s">wavelength</text><text transform="translate(1254.30,412.2) skewX(10)" x="0" y="0" font-size="40" font-style="italic" class="s">λ</text><text x="1287.45" y="412.2" font-size="37.5" class="s">(nm)</text><rect x="1145.20" y="11.1" width="254.80" height="64.20" fill="#fff" stroke="#000" stroke-width="2"/><text x="1165.60" y="53.3" font-size="38" font-style="italic" class="s">e</text><text x="1182.10" y="58.9" font-size="29" class="s">recon</text><path d="M1258.60 40.2H1283.40M1258.60 47.1H1283.40" stroke="#000" stroke-width="1.8"/><text x="1294.00" y="53.2" font-size="37.5" class="s">29.33</text><text x="92" y="294.25" font-size="34" text-anchor="end" class="s">0</text><text x="92" y="243.00" font-size="34" text-anchor="end" class="s">0.2</text><text x="92" y="191.75" font-size="34" text-anchor="end" class="s">0.4</text><text x="92" y="140.50" font-size="34" text-anchor="end" class="s">0.6</text><text x="92" y="89.25" font-size="34" text-anchor="end" class="s">0.8</text><text x="92" y="38.00" font-size="34" text-anchor="end" class="s">1</text><text transform="translate(26.3,154) rotate(-90)" font-size="38" text-anchor="middle" class="s">norm. intensity <tspan font-style="italic">I</tspan></text></svg>
</body></html>
